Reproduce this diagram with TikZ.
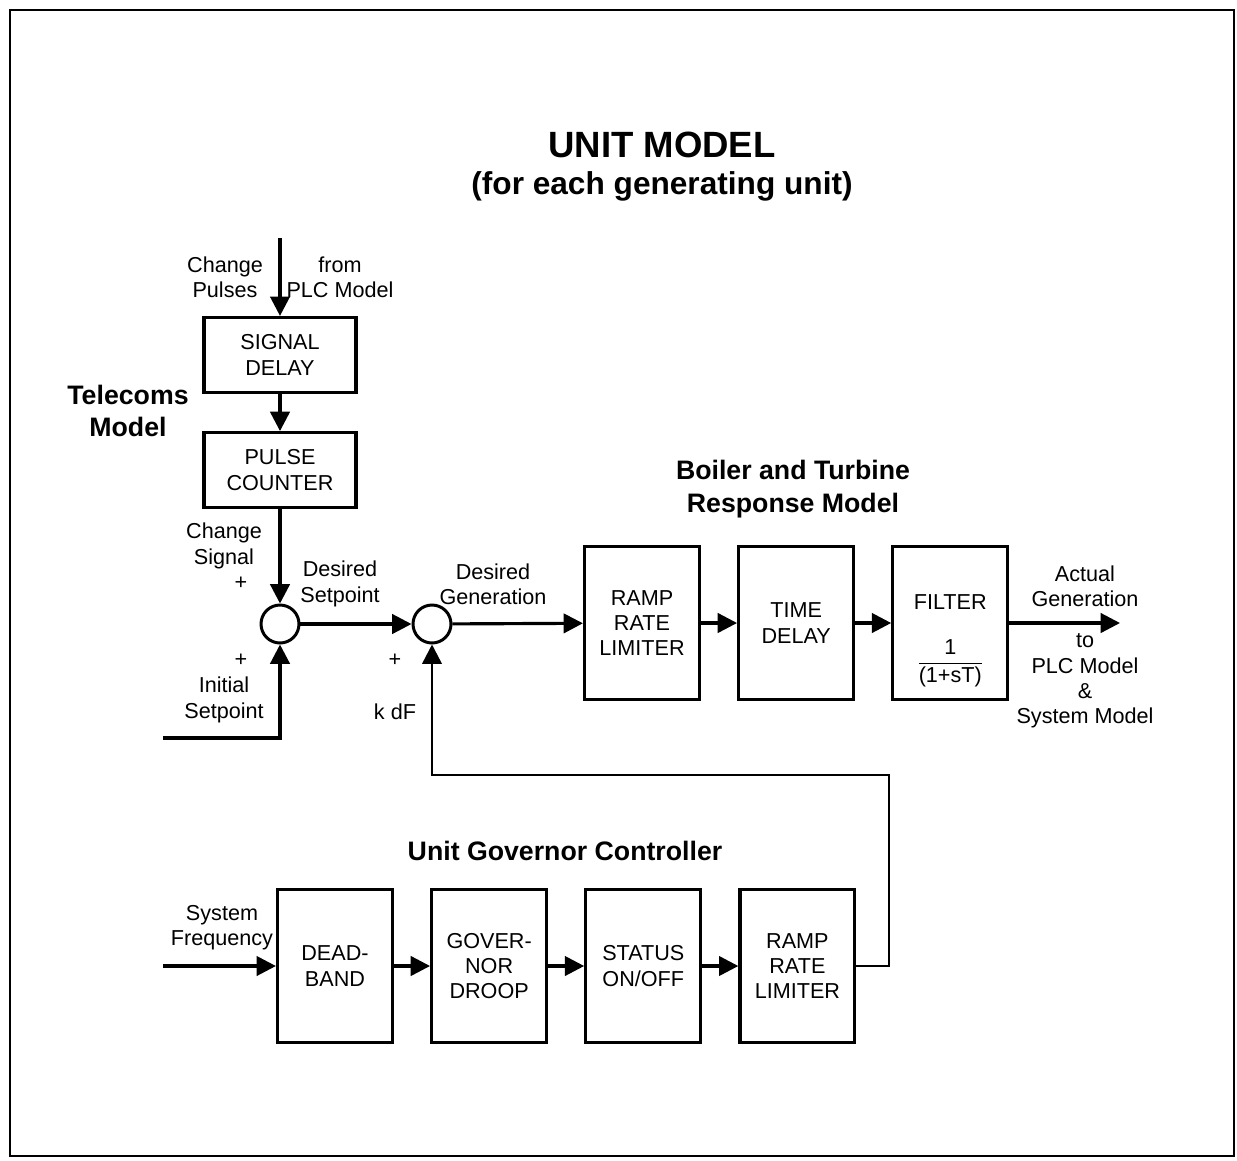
\documentclass[tikz,border=0pt]{standalone}
\usepackage{amsmath}
\usepackage{fontspec}
\setmainfont{Liberation Sans}
\usetikzlibrary{arrows.meta, positioning}

\begin{document}
\begin{tikzpicture}[
  x=0.02cm, y=-0.02cm,
  font=\fontsize{12.3}{14.4}\selectfont,
  box/.style={draw, line width=1.8pt, align=center, inner sep=2pt},
  tbox/.style={box, minimum width=3.04cm, minimum height=1.5cm},
  gbox/.style={box, minimum width=2.3cm, minimum height=3.05cm},
  sum/.style={draw, circle, line width=1.7pt, minimum size=0.76cm, inner sep=0pt},
  arrow/.style={-{Triangle[length=11pt,width=11pt]}, line width=1.8pt},
  head/.style={font=\bfseries\fontsize{15.2}{18.5}\selectfont, align=center},
  lbl/.style={align=center}
]
\useasboundingbox (0,0) rectangle (1237,1160);
\draw[line width=1.1pt] (10,10) rectangle (1234,1156);

% title
\node[font=\bfseries\fontsize{20.8}{24}\selectfont] (title) at (662,145) {UNIT MODEL};
\node[font=\bfseries\fontsize{18}{22}\selectfont] (subtitle) at (662,186) {(for each generating unit)};

% telecoms model
\node[tbox] (sd) at (280,355) {SIGNAL\\DELAY};
\node[tbox, below=7.4mm of sd] (pc) {PULSE\\COUNTER};
\node[head] (telecoms) at (128,411) {Telecoms\\Model};
\coordinate (pulsein) at (280,238);

% summing junctions
\node[sum] (sum1) at (280,624) {};
\node[sum] (sum2) at (432,624) {};
\coordinate (isp) at (163,738);

% boiler and turbine response model
\node[head] (boiler) at (793,489) {Boiler and Turbine\\Response Model};
\node[gbox] (rrl) at (642,623) {RAMP\\RATE\\LIMITER};
\node[gbox, right=7.2mm of rrl] (td) {TIME\\DELAY};
\node[gbox, right=7.2mm of td] (flt) {\rule{0pt}{29pt}FILTER\\[16pt]$\dfrac{\text{1}}{\text{(1+sT)}}$};
\coordinate (out) at (1120,623);

% unit governor controller
\node[head] (governor) at (565,851) {Unit Governor Controller};
\node[gbox] (db) at (335,966) {DEAD-\\BAND};
\node[gbox, right=7.2mm of db] (gd) {GOVER-\\NOR\\DROOP};
\node[gbox, right=7.2mm of gd] (st) {STATUS\\ON/OFF};
\node[gbox, right=7.2mm of st] (grl) {RAMP\\RATE\\LIMITER};
\coordinate (sf) at (163,966);
\coordinate (fb) at (889,775);

% labels
\node[lbl] (chp) at (225,277) {Change\\Pulses};
\node[lbl] (fplc) at (340,277) {from\\PLC Model};
\node[lbl] (chs) at (224,546) {Change\\Signal};
\node (p1) at (241,583) {+};
\node (p2) at (241,660) {+};
\node[lbl] (inisp) at (224,700) {Initial\\Setpoint};
\node[lbl] (dsp) at (340,584) {Desired\\Setpoint};
\node (p3) at (395,660) {+};
\node (kdf) at (395,712) {k dF};
\node[lbl] (dgen) at (493,584) {Desired\\Generation};
\node[lbl] (agen) at (1085,586) {Actual\\Generation};
\node[lbl] (toplc) at (1085,681) {to\\PLC Model\\\&\\System Model};
\node[lbl] (sfreq) at (222,928) {System\\Frequency};

% connectors
\draw[arrow] (pulsein) -- (sd);
\draw[arrow] (sd) -- (pc);
\draw[arrow] (pc) -- (sum1);
\draw[arrow] (isp) -| (sum1);
\draw[arrow] (sum1) -- (sum2);
\draw[arrow] (sum2) -- (rrl);
\draw[arrow] (rrl) -- (td);
\draw[arrow] (td) -- (flt);
\draw[arrow] (flt) -- (out);
\draw[arrow] (sf) -- (db);
\draw[arrow] (db) -- (gd);
\draw[arrow] (gd) -- (st);
\draw[arrow] (st) -- (grl);
\draw[arrow, line width=1.4pt] (grl) -| (fb) -| (sum2);
\end{tikzpicture}
\end{document}
